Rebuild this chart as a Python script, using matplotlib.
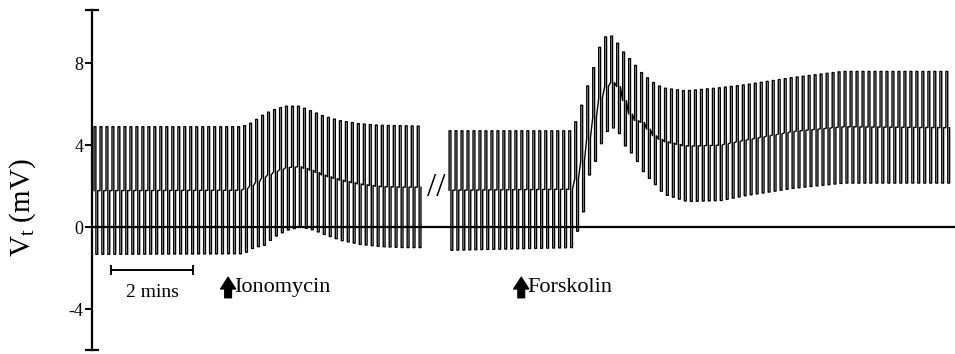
import numpy as np
import matplotlib
matplotlib.use('Agg')
from matplotlib import pyplot as plt

plt.rcParams['font.family'] = ['Liberation Serif', 'DejaVu Serif']
plt.rcParams['mathtext.fontset'] = 'custom'
plt.rcParams['mathtext.rm'] = 'Liberation Serif'
plt.rcParams['mathtext.it'] = 'Liberation Serif:italic'
plt.rcParams['axes.unicode_minus'] = False

# --- recorded trace, envelope of the pulse train (time in min, Vt in mV) ---
# segment 1: baseline + ionomycin
seg1_t    = [0.0, 3.61, 3.85, 4.10, 4.34, 4.66, 5.00, 5.32, 5.56, 5.98, 6.46, 6.95, 7.51, 8.12]
seg1_base = [1.78, 1.80, 2.05, 2.40, 2.65, 2.90, 2.95, 2.75, 2.55, 2.30, 2.10, 1.98, 1.95, 1.95]
seg1_top  = [4.90, 4.90, 5.10, 5.45, 5.70, 5.90, 5.90, 5.65, 5.45, 5.20, 5.05, 4.97, 4.95, 4.92]
seg1_bot  = [-1.33, -1.30, -1.00, -0.90, -0.50, -0.15, 0.00, -0.15, -0.35, -0.65, -0.85, -0.95, -1.00, -1.00]

# segment 2: after the break + forskolin
seg2_t    = [0.0, 2.95, 3.12, 3.24, 3.41, 3.56, 3.73, 3.93, 4.10, 4.27, 4.46, 4.71, 4.95, 5.20,
             5.76, 6.59, 7.22, 8.37, 9.59, 12.27]
seg2_base = [1.80, 1.85, 2.50, 3.30, 4.60, 5.60, 6.70, 7.10, 6.90, 6.10, 5.25, 5.10, 4.50, 4.20,
             3.95, 4.00, 4.25, 4.67, 4.90, 4.85]
seg2_top  = [4.70, 4.70, 5.25, 6.00, 7.10, 8.00, 9.20, 9.40, 9.00, 8.50, 8.10, 7.50, 7.10, 6.80,
             6.65, 6.80, 6.95, 7.30, 7.60, 7.60]
seg2_bot  = [-1.13, -1.00, 0.00, 0.80, 2.95, 3.30, 4.50, 4.90, 4.60, 3.90, 3.50, 2.65, 2.15, 1.60,
             1.25, 1.30, 1.55, 1.90, 2.15, 2.15]

SEG2_OFFSET = 8.66      # where segment 2 is drawn after the break
IONOMYCIN_T = 3.29
FORSKOLIN_T = 1.78      # within segment 2

# current pulse protocol
PULSE_PERIOD = 0.146    # min
PULSE_W = 0.045         # width of each polarity phase, min


def pulse_trace(t, base, top, bot, offset=0.0):
    starts = np.arange(0.02, t[-1] - 2 * PULSE_W, PULSE_PERIOD)
    b = np.interp(starts, t, base)
    hi = np.interp(starts, t, top)
    lo = np.interp(starts, t, bot)
    s = starts + offset
    x = np.column_stack([s, s, s + PULSE_W, s + PULSE_W, s + 2 * PULSE_W, s + 2 * PULSE_W]).ravel()
    y = np.column_stack([b, hi, hi, lo, lo, b]).ravel()
    return x, y


fig = plt.figure(figsize=(9.55, 3.54), dpi=100)
ax = fig.add_axes([92 / 955, 4 / 354, 863 / 955, 340 / 354])

x1, y1 = pulse_trace(seg1_t, seg1_base, seg1_top, seg1_bot)
x2, y2 = pulse_trace(seg2_t, seg2_base, seg2_top, seg2_bot, SEG2_OFFSET)
ax.plot(x1, y1, color='black', lw=1.0)
ax.plot(x2, y2, color='black', lw=1.0)
ax.axhline(0, color='black', lw=1.6)

ax.set_xlim(-0.03, 21.02)
ax.set_ylim(-6.0, 10.6)

# axis cosmetics
for side in ['top', 'right', 'bottom']:
    ax.spines[side].set_visible(False)
ax.spines['left'].set_linewidth(1.6)
ax.set_xticks([])
ax.set_yticks([-4, 0, 4, 8])
ax.set_yticks([-6.0, 10.6], minor=True)
ax.tick_params(axis='y', which='major', length=5, width=1.4, labelsize=13, pad=1)
ax.tick_params(axis='y', which='minor', length=10, width=1.6, direction='inout')
ax.set_ylabel(r'$\mathrm{V_t}$ (mV)', fontsize=21)
ax.yaxis.set_label_coords(-0.063, 0.42)

# break between the two segments
ax.text(8.37, 1.9, '//', fontsize=24, ha='center', va='center')

# 2 min scale bar
ax.plot([0.44, 2.44], [-2.1, -2.1], color='black', lw=1.4)
ax.plot([0.44, 0.44], [-2.3, -1.9], color='black', lw=1.4)
ax.plot([2.44, 2.44], [-2.3, -1.9], color='black', lw=1.4)
ax.text(1.44, -3.2, '2 mins', fontsize=14, ha='center', va='center')

# drug additions
arrow_style = dict(arrowstyle='simple,head_length=0.7,head_width=0.9,tail_width=0.4',
                   color='black', shrinkA=0, shrinkB=0, mutation_scale=12)
for t_add, label in [(IONOMYCIN_T, 'Ionomycin'), (SEG2_OFFSET + FORSKOLIN_T, 'Forskolin')]:
    ax.annotate('', xy=(t_add, -2.45), xytext=(t_add, -3.45), arrowprops=arrow_style)
    ax.text(t_add + 0.15, -2.95, label, fontsize=16, ha='left', va='center')

fig.savefig('out.png', dpi=100)
